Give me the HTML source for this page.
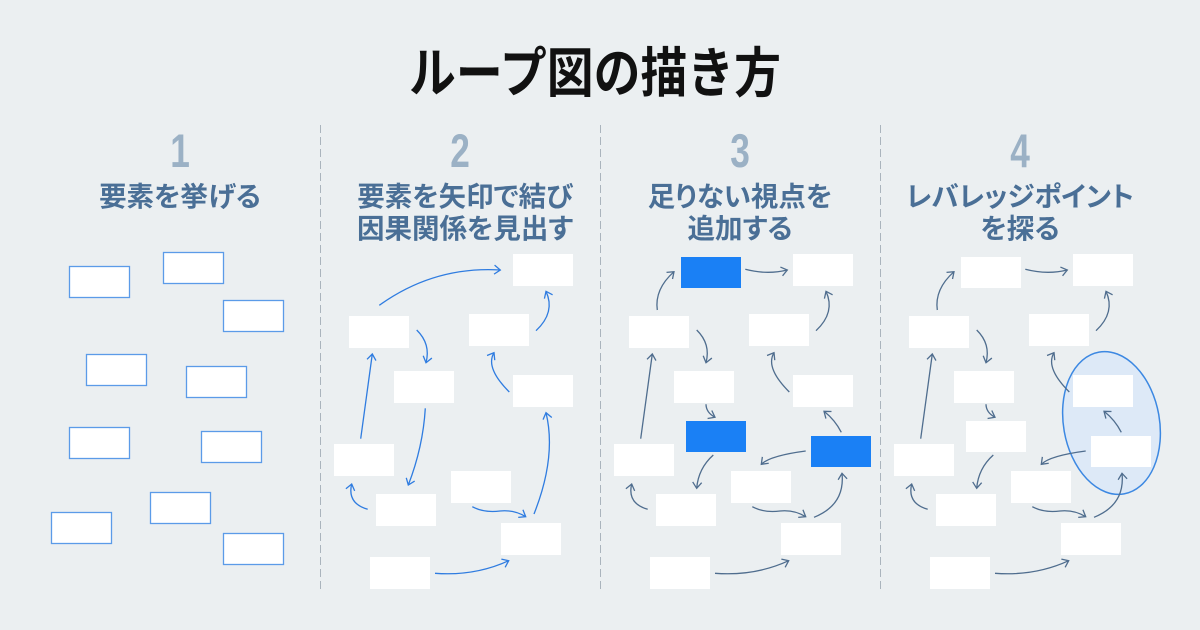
<!DOCTYPE html>
<html><head><meta charset="utf-8">
<style>
html,body{margin:0;padding:0;background:#ebeff1;}
svg{display:block;}
.t{font-family:"Liberation Sans","Noto Sans CJK JP",sans-serif;font-weight:bold;}
.h{font-family:"Liberation Sans","Noto Sans CJK JP",sans-serif;font-weight:bold;font-size:27.5px;fill:#4a6f96;font-feature-settings:"palt";}
.n{font-family:"Liberation Sans",sans-serif;font-weight:bold;font-size:47px;fill:#9bb1c5;}
.b1 rect{fill:#fff;stroke:#5b9be8;stroke-width:1.3;}
.wb rect{fill:#fff;}
.a2 path{fill:none;stroke:#2f7ce0;stroke-width:1.3;marker-end:url(#mb);}
.a3 path{fill:none;stroke:#4f6d8e;stroke-width:1.3;marker-end:url(#ms);}
</style></head>
<body>
<svg width="1200" height="630" viewBox="0 0 1200 630" xmlns="http://www.w3.org/2000/svg">
<defs>
<marker id="mb" markerUnits="userSpaceOnUse" markerWidth="14" markerHeight="14" refX="0" refY="0" orient="auto" viewBox="-8 -7 14 14" overflow="visible">
<path d="M-6,-4.5 L0,0 L-6,4.5" fill="none" stroke="#2f7ce0" stroke-width="1.3"/>
</marker>
<marker id="ms" markerUnits="userSpaceOnUse" markerWidth="14" markerHeight="14" refX="0" refY="0" orient="auto" viewBox="-8 -7 14 14" overflow="visible">
<path d="M-6,-4.5 L0,0 L-6,4.5" fill="none" stroke="#4f6d8e" stroke-width="1.3"/>
</marker>
</defs>
<rect width="1200" height="630" fill="#ebeff1"/>

<!-- Title -->
<text class="t" x="409" y="92" font-size="54" fill="#111" textLength="372" lengthAdjust="spacingAndGlyphs">ループ図の描き方</text>

<!-- dividers -->
<g stroke="#aab4bd" stroke-width="1" stroke-dasharray="8 4">
<line x1="320.5" y1="125" x2="320.5" y2="590"/>
<line x1="600.5" y1="125" x2="600.5" y2="590"/>
<line x1="880.5" y1="125" x2="880.5" y2="590"/>
</g>

<!-- Numbers -->
<text class="n" text-anchor="middle" transform="translate(180,167) scale(0.75,1)">1</text>
<text class="n" text-anchor="middle" transform="translate(460,167) scale(0.75,1)">2</text>
<text class="n" text-anchor="middle" transform="translate(740,167) scale(0.75,1)">3</text>
<text class="n" text-anchor="middle" transform="translate(1020,167) scale(0.75,1)">4</text>

<!-- Headers -->
<text class="h" x="180" y="206" text-anchor="middle">要素を挙げる</text>
<text class="h" x="465" y="206" text-anchor="middle">要素を矢印で結び</text>
<text class="h" x="465" y="238" text-anchor="middle">因果関係を見出す</text>
<text class="h" x="740" y="206" text-anchor="middle">足りない視点を</text>
<text class="h" x="740" y="238" text-anchor="middle">追加する</text>
<text class="h" x="1020" y="206" text-anchor="middle">レバレッジポイント</text>
<text class="h" x="1020" y="238" text-anchor="middle">を探る</text>

<!-- Panel 1 -->
<g class="b1">
<rect x="69.5" y="266.5" width="60" height="31"/>
<rect x="163.5" y="252.5" width="60" height="31"/>
<rect x="223.5" y="300.5" width="60" height="31"/>
<rect x="86.5" y="354.5" width="60" height="31"/>
<rect x="186.5" y="366.5" width="60" height="31"/>
<rect x="69.5" y="427.5" width="60" height="31"/>
<rect x="201.5" y="431.5" width="60" height="31"/>
<rect x="150.5" y="492.5" width="60" height="31"/>
<rect x="51.5" y="512.5" width="60" height="31"/>
<rect x="223.5" y="533.5" width="60" height="31"/>
</g>

<!-- Panel 2 -->
<g class="wb">
<rect x="513" y="254" width="60" height="32"/>
<rect x="349" y="316" width="60" height="32"/>
<rect x="469" y="314" width="60" height="32"/>
<rect x="394" y="371" width="60" height="32"/>
<rect x="513" y="375" width="60" height="32"/>
<rect x="334" y="444" width="60" height="32"/>
<rect x="451" y="471" width="60" height="32"/>
<rect x="376" y="494" width="60" height="32"/>
<rect x="501" y="523" width="60" height="32"/>
<rect x="370" y="557" width="60" height="32"/>
</g>
<g class="a2">
<path d="M379.3,305.3 Q434,266 500.3,270"/>
<path d="M416.7,330 Q431,344 426,362.7"/>
<path d="M425.3,408.3 Q423,447 408.3,485"/>
<path d="M360.7,438.7 L372.3,354"/>
<path d="M367.7,509.3 Q347,503.3 351.7,484"/>
<path d="M472.3,506.7 C482,512 492,512 500,511 C510,510 518,512 525.7,516.7"/>
<path d="M534,514 Q556.7,456.7 546,412.7"/>
<path d="M435,573.3 Q474.8,576.3 508.7,560.7"/>
<path d="M509.3,392 Q485,367.6 494,352.7"/>
<path d="M536,330.7 Q555.7,312.3 546,291.3"/>
</g>

<!-- Panel 4 ellipse (behind boxes) -->
<ellipse cx="1111.5" cy="423" rx="48" ry="72" transform="rotate(-10 1111.5 423)" fill="#dde9f7" stroke="#3c88e2" stroke-width="1.5"/>

<!-- Panel 3 -->
<g id="p3">
<g class="wb">
<rect x="793" y="254" width="60" height="32"/>
<rect x="629" y="316" width="60" height="32"/>
<rect x="749" y="314" width="60" height="32"/>
<rect x="674" y="371" width="60" height="32"/>
<rect x="793" y="375" width="60" height="32"/>
<rect x="614" y="444" width="60" height="32"/>
<rect x="731" y="471" width="60" height="32"/>
<rect x="656" y="494" width="60" height="32"/>
<rect x="781" y="523" width="60" height="32"/>
<rect x="650" y="557" width="60" height="32"/>
</g>
</g>
<g fill="#1a80f5">
<rect x="681" y="257" width="60" height="31"/>
<rect x="686" y="421" width="60" height="31"/>
<rect x="811" y="436" width="60" height="31"/>
</g>
<g id="a3" class="a3">
<path d="M657.3,310 Q654.4,289.2 674,271.7"/>
<path d="M745.3,269.3 Q767,275 787.3,270"/>
<path d="M696.7,330 Q711,344 706,362.7"/>
<path d="M706,404.3 Q706.1,412.6 715,417.3"/>
<path d="M713.3,455 Q698.3,468.4 696.7,488.3"/>
<path d="M640.7,438.7 L652.3,354"/>
<path d="M647.7,509.3 Q627,503.3 631.7,484"/>
<path d="M752.3,506.7 C762,512 772,512 780,511 C790,510 798,512 805.7,516.7"/>
<path d="M814,517.3 Q845.3,504.7 842,473.3"/>
<path d="M805.7,451 Q769.9,455.7 761.3,464.3"/>
<path d="M841.3,432.3 Q835,420 824,411.3"/>
<path d="M789.3,392 Q765,367.6 774,352.7"/>
<path d="M816,330.7 Q835.7,312.3 826,291.3"/>
<path d="M715,573.3 Q754.8,576.3 788.7,560.7"/>
</g>

<!-- Panel 4 (panel 3 shifted, all white) -->
<g transform="translate(280,0)">
<use href="#p3"/>
<g fill="#fff">
<rect x="681" y="257" width="60" height="31"/>
<rect x="686" y="421" width="60" height="31"/>
<rect x="811" y="436" width="60" height="31"/>
</g>
<use href="#a3"/>
</g>
</svg>
</body></html>
